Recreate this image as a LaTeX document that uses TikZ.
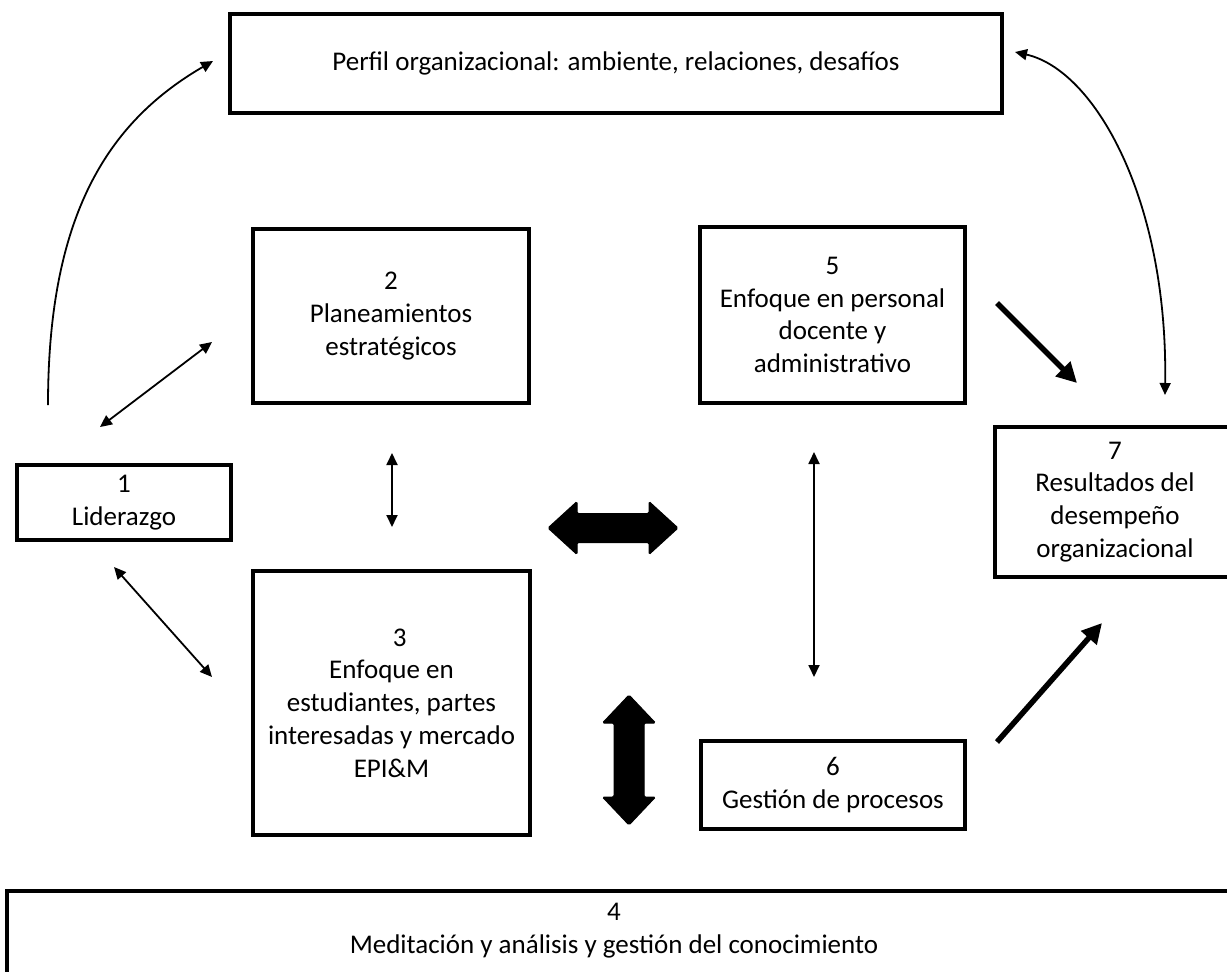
\documentclass[tikz,border=0pt]{standalone}
\usepackage{fontspec}
\setmainfont{Carlito}
\usetikzlibrary{arrows.meta}
\begin{document}
\begin{tikzpicture}[x=1pt,y=-1pt,
  txt/.style={font=\fontsize{27}{32.8}\selectfont},
  box/.style={draw, line width=3.5pt, inner sep=0pt, align=center, txt},
  lbl/.style={inner sep=0pt, align=center, txt},
  link/.style={line width=1.8pt,
    {Triangle[length=12pt,width=11pt]}-{Triangle[length=12pt,width=11pt]}},
  oneway/.style={line width=1.8pt, -{Triangle[length=12pt,width=11pt]}},
  bold/.style={line width=5.5pt, -{Triangle[length=20pt,width=20pt]}},
  block/.style={fill=black, draw=black, line width=1pt, rounded corners=1.5pt}]
\clip (0,0) rectangle (1227,972);
\fill[white] (0,0) rectangle (1227,972);

% boxes
\node[box, minimum width=772pt, minimum height=99pt] (perfil) at (616,63.5)
  {Perfil organizacional: ambiente, relaciones, desafíos};
\node[box, minimum width=214pt, minimum height=75pt] (b1) at (124,502.5)
  {1\\Liderazgo};
\node[box, minimum width=276pt, minimum height=174pt] (b2) at (391,316)
  {2\\Planeamientos\\estratégicos};
\node[box, minimum width=277pt, minimum height=264pt] (b3) at (391.5,703)
  {\hspace*{0.6em}3\\Enfoque en\\estudiantes, partes\\interesadas y mercado\\EPI\&M};
\node[box, minimum width=265pt, minimum height=176pt] (b5) at (832.5,315)
  {5\\Enfoque en personal\\docente y\\administrativo};
\node[box, minimum width=264pt, minimum height=88pt] (b6) at (833,785)
  {6\\Gestión de procesos};
\node[box, minimum width=240pt, minimum height=150pt] (b7) at (1115,502)
  {7\\Resultados del\\desempeño\\organizacional};
\node[box, anchor=north west, minimum width=1260pt, minimum height=140pt] (b4)
  at (5,889) {};
\node[lbl] (b4txt) at (614,931) {4\\Meditación y análisis y gestión del conocimiento};

% connector end points
\coordinate (l0) at (48,405);
\coordinate (l1) at (213,61);
\coordinate (r0) at (1015,52);
\coordinate (r1) at (1165,395);
\coordinate (a12s) at (100,427);
\coordinate (a12e) at (212,342);
\coordinate (a13s) at (114,567);
\coordinate (a13e) at (212,677);
\coordinate (a23s) at (392,453);
\coordinate (a23e) at (392,527);
\coordinate (a56s) at (814,452);
\coordinate (a56e) at (814,677);
\coordinate (a57s) at (997,303);
\coordinate (a57e) at (1077,383);
\coordinate (a67s) at (997,742);
\coordinate (a67e) at (1102,623);

% curved links to the organizational profile
\draw[oneway] (l0) .. controls (48,215) and (108,122) .. (l1);
\draw[link] (r0) .. controls (1095,70) and (1168,200) .. (r1);

% thin two-way links
\draw[link] (a12s) -- (a12e);
\draw[link] (a13s) -- (a13e);
\draw[link] (a23s) -- (a23e);
\draw[link] (a56s) -- (a56e);

% thick one-way links to the results
\draw[bold] (a57s) -- (a57e);
\draw[bold] (a67s) -- (a67e);

% block double arrows between the central boxes
\path[block] (548,528) -- (577,501.5) -- (577,513.5) -- (649,513.5)
  -- (649,501.5) -- (678,528) -- (649,554.5) -- (649,542.5)
  -- (577,542.5) -- (577,554.5) -- cycle;
\path[block] (629,695) -- (655.5,723) -- (644,723) -- (644,797)
  -- (655.5,797) -- (629,825) -- (602.5,797) -- (614,797)
  -- (614,723) -- (602.5,723) -- cycle;
\end{tikzpicture}
\end{document}
